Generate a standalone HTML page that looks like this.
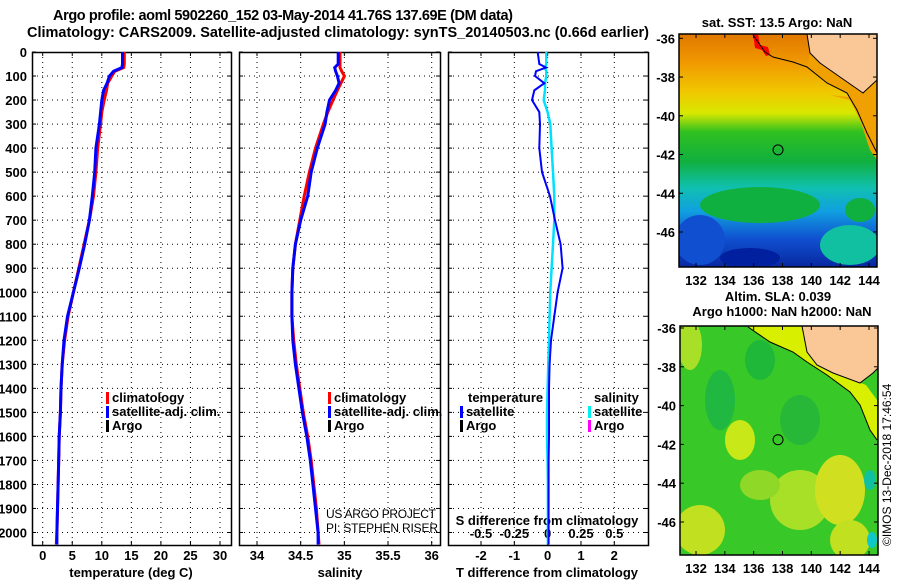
<!DOCTYPE html>
<html><head><meta charset="utf-8"><style>
html,body{margin:0;padding:0;background:#fff;}
svg{display:block;font-family:"Liberation Sans",sans-serif;}
</style></head><body>
<svg id="fig" width="900" height="580" viewBox="0 0 900 580" xmlns="http://www.w3.org/2000/svg">
<defs>
<linearGradient id="sstg" x1="0" y1="0" x2="0" y2="1">
<stop offset="0" stop-color="#e07800"/><stop offset="0.12" stop-color="#f09800"/>
<stop offset="0.25" stop-color="#f0c800"/><stop offset="0.34" stop-color="#d8e800"/>
<stop offset="0.42" stop-color="#30c020"/><stop offset="0.55" stop-color="#10b040"/>
<stop offset="0.66" stop-color="#10c0b0"/><stop offset="0.76" stop-color="#10a0e0"/>
<stop offset="0.88" stop-color="#1050d0"/><stop offset="1" stop-color="#0828a0"/>
</linearGradient>
<clipPath id="c1"><rect x="679" y="34" width="198" height="233"/></clipPath>
<clipPath id="c2"><rect x="680" y="326" width="198" height="229"/></clipPath>
</defs>
<text x="283" y="20" font-size="14.5" font-weight="bold" text-anchor="middle" textLength="460">Argo profile: aoml 5902260_152 03-May-2014 41.76S 137.69E (DM data)</text>
<text x="338" y="37" font-size="14.5" font-weight="bold" text-anchor="middle" textLength="622">Climatology: CARS2009. Satellite-adjusted climatology: synTS_20140503.nc (0.66d earlier)</text>
<g id="panels"></g>
<g id="maps"></g>
<text x="0" y="0" font-size="12" transform="translate(891,546) rotate(-90)">©IMOS 13-Dec-2018 17:46:54</text>
</svg>
<script>
const depths=[0,50,65,80,100,130,160,200,250,300,400,500,600,700,800,900,1000,1100,1200,1300,1400,1500,1600,1700,1800,1900,2000,2050];
const tempClim=[13.8,13.8,13.7,12.2,11.7,11.0,10.8,10.4,10.0,9.8,9.3,9.0,8.6,7.9,7.0,6.1,5.2,4.3,3.7,3.3,3.1,3.0,2.8,2.7,2.6,2.5,2.4,2.3];
const tempSat=[13.5,13.5,13.4,12.0,11.3,10.9,10.3,10.0,9.8,9.6,9.0,8.8,8.4,7.9,7.1,6.2,5.2,4.2,3.6,3.3,3.1,3.0,2.8,2.7,2.6,2.5,2.4,2.4];
const salClim=[34.95,34.95,34.95,34.97,35.0,34.96,34.92,34.87,34.81,34.76,34.67,34.6,34.54,34.49,34.44,34.41,34.4,34.4,34.42,34.45,34.49,34.53,34.58,34.62,34.65,34.68,34.7,34.71];
const salSat=[34.93,34.93,34.89,34.9,34.92,34.94,34.9,34.83,34.8,34.78,34.69,34.62,34.58,34.5,34.44,34.41,34.4,34.4,34.41,34.44,34.48,34.52,34.57,34.61,34.64,34.67,34.7,34.7];
const dTsat=[-0.3,-0.25,-0.05,-0.35,-0.38,-0.1,-0.4,-0.47,-0.25,-0.23,-0.25,-0.17,0.07,0.22,0.39,0.45,0.3,0.2,0.1,0.06,0.04,0.04,0.04,0.03,0.03,0.03,0.03,0.03];
const dSsat=[-0.01,-0.01,-0.02,-0.01,-0.01,-0.02,-0.02,-0.03,0.0,0.02,0.03,0.04,0.05,0.05,0.04,0.03,0.02,0.015,0.01,0.005,0,-0.005,-0.005,0,0.002,0.002,0.002,0.002];
const depthTicks=[0,100,200,300,400,500,600,700,800,900,1000,1100,1200,1300,1400,1500,1600,1700,1800,1900,2000];
const tTicks=[0,5,10,15,20,25,30];
const sTicks=[34,34.5,35,35.5,36];
const dTTicks=[-2,-1,0,1,2];
const dSTicks=[-0.5,-0.25,0,0.25,0.5];
const lonTicks=[132,134,136,138,140,142,144];
const latTicks=[-36,-38,-40,-42,-44,-46];

const NS='http://www.w3.org/2000/svg';
const P=document.getElementById('panels'), M=document.getElementById('maps');
function mk(tag,attrs,parent,txt){const e=document.createElementNS(NS,tag);for(const k in attrs)e.setAttribute(k,attrs[k]);if(txt!==undefined)e.textContent=txt;(parent||P).appendChild(e);return e;}
const Y0=52,Y1=545;
const yD=d=>Y0+(d/2052)*(Y1-Y0);
function lin(d0,d1,r0,r1){return v=>r0+(v-d0)/(d1-d0)*(r1-r0);}
const xT=lin(0,30,42.7,220);
const xS=lin(34,36,257,431.7);
const xDT=lin(-2,2,481,614.3);
const xDS=lin(-0.5,0.5,481,614.3);
const frames=[[32,231,'temperature-panel'],[239,440,'salinity-panel'],[448,648,'difference-panel']];

frames.forEach((f,i)=>{
  const g=mk('g',{});
  
  
  depthTicks.forEach(d=>{if(d===0)return;const l=mk('line',{x1:f[0],x2:f[1],y1:yD(d),y2:yD(d),stroke:'#000','stroke-width':1,'stroke-dasharray':'1,4'},g);
    });
  const xs=i===0?tTicks.map(xT):i===1?sTicks.map(xS):dTTicks.map(xDT);
  xs.forEach(x=>{const l=mk('line',{x1:x,x2:x,y1:Y0,y2:Y1,stroke:'#000','stroke-width':1,'stroke-dasharray':'1,4'},g);
    
    mk('line',{x1:x,x2:x,y1:Y1,y2:Y1-4,stroke:'#000'},g);mk('line',{x1:x,x2:x,y1:Y0,y2:Y0+4,stroke:'#000'},g);});
  depthTicks.forEach(d=>{mk('line',{x1:f[0],x2:f[0]+4,y1:yD(d),y2:yD(d),stroke:'#000'},g);mk('line',{x1:f[1],x2:f[1]-4,y1:yD(d),y2:yD(d),stroke:'#000'},g);});
  const r=mk('rect',{x:f[0]+0.5,y:Y0+0.5,width:f[1]-f[0],height:Y1-Y0,fill:'none',stroke:'#000','stroke-width':1.5},g);
  
});
depthTicks.forEach(d=>{const t=mk('text',{x:27,y:yD(d)+5,'font-size':13,'font-weight':'bold','text-anchor':'end'},P,String(d));
  });
function ticklabels(arr,fx,y,name){arr.forEach(v=>{const t=mk('text',{x:fx(v),y:y,'font-size':13,'font-weight':'bold','text-anchor':'middle'},P,String(v));
  });}
ticklabels(tTicks,xT,560,'temperature-tick-label');
ticklabels(sTicks,xS,560,'salinity-tick-label');
ticklabels(dTTicks,xDT,560,'t-diff-tick-label');
ticklabels(dSTicks,xDS,538,'s-diff-tick-label');
function label(x,y,s,name,size,anchor,weight){const t=mk('text',{x:x,y:y,'font-size':size||13,'font-weight':weight||'bold','text-anchor':anchor||'middle'},P,s);
  return t;}
label(131,577,'temperature (deg C)','temperature-axis-title');
label(340,577,'salinity','salinity-axis-title');
label(547,577,'T difference from climatology','t-diff-axis-title');
label(547,525,'S difference from climatology','s-diff-axis-title');
label(326,518,'US ARGO PROJECT','credit-project',12,'start','normal').setAttribute('textLength','110');
label(326,532,'PI: STEPHEN RISER','credit-pi',12,'start','normal').setAttribute('textLength','112');

function series(xs,fx,col,name,w){const pts=xs.map((v,i)=>fx(v).toFixed(1)+','+yD(depths[i]).toFixed(1)).join(' ');
  const l=mk('polyline',{points:pts,fill:'none',stroke:col,'stroke-width':w||3,'stroke-linejoin':'miter'});
  }
series(tempClim,xT,'#ff0000','temperature-climatology-line');
series(tempSat,xT,'#0000ff','temperature-satellite-line');
series(salClim,xS,'#ff0000','salinity-climatology-line');
series(salSat,xS,'#0000ff','salinity-satellite-line');
series(dSsat,xDS,'#00e0ff','salinity-diff-satellite-line',2.5);
series(dTsat,xDT,'#0000ff','temperature-diff-satellite-line',2);

function legend(x,y,col,txt,name){const g=mk('g',{});
  mk('rect',{x:x,y:y-10,width:3,height:12,fill:col},g);
  mk('text',{x:x+6,y:y,'font-size':13,'font-weight':'bold'},g,txt);}
legend(106,402,'#ff0000','climatology','legend-climatology');
legend(106,416,'#0000ff','satellite-adj. clim.','legend-satellite-adj');
legend(106,430,'#000','Argo','legend-argo');
legend(328,402,'#ff0000','climatology','legend-climatology');
legend(328,416,'#0000ff','satellite-adj. clim.','legend-satellite-adj');
legend(328,430,'#000','Argo','legend-argo');
label(468,402,'temperature','legend-temperature-heading',13,'start');
legend(460,416,'#0000ff','satellite','legend-t-satellite');
legend(460,430,'#000','Argo','legend-t-argo');
label(594,402,'salinity','legend-salinity-heading',13,'start');
legend(588,416,'#00f0f0','satellite','legend-s-satellite');
legend(588,430,'#ff00ff','Argo','legend-s-argo');

function mapAxes(x0,x1,y0,y1,lat36,pxLat,name){
  const lonX=lin(132,144,696,869);
  lonTicks.forEach(l=>{const t=mk('text',{x:lonX(l),y:y1+18,'font-size':13,'font-weight':'bold','text-anchor':'middle'},M,String(l));
    
    mk('line',{x1:lonX(l),x2:lonX(l),y1:y1,y2:y1-4,stroke:'#000'},M);mk('line',{x1:lonX(l),x2:lonX(l),y1:y0,y2:y0+4,stroke:'#000'},M);});
  latTicks.forEach(l=>{const y=lat36+(-36-l)*pxLat;const t=mk('text',{x:x0-4,y:y+5,'font-size':13,'font-weight':'bold','text-anchor':'end'},M,String(l));
    
    mk('line',{x1:x0,x2:x0+4,y1:y,y2:y,stroke:'#000'},M);mk('line',{x1:x1,x2:x1-4,y1:y,y2:y,stroke:'#000'},M);});
  const r=mk('rect',{x:x0,y:y0,width:x1-x0,height:y1-y0,fill:'none',stroke:'#000','stroke-width':1.5},M);
  
  const c=mk('circle',{cx:lonX(137.69),cy:lat36+5.76*pxLat,r:5,fill:'none',stroke:'#000','stroke-width':1},M);
  
}
let g1=mk('g',{'clip-path':'url(#c1)'},M);

mk('rect',{x:679,y:34,width:198,height:233,fill:'url(#sstg)'},g1);
mk('polygon',{points:'810,53 820,63 840,77 863,93 877,80 877,160 867,133 857,110 847,93 827,83 807,67',fill:'#f0a000'},g1);
mk('polygon',{points:'830,95 850,100 860,120 870,150 877,160 877,100',fill:'#f0a000'},g1);
mk('ellipse',{cx:760,cy:205,rx:60,ry:18,fill:'#10b040'},g1);
mk('ellipse',{cx:860,cy:210,rx:15,ry:12,fill:'#10b040'},g1);
mk('ellipse',{cx:700,cy:240,rx:25,ry:25,fill:'#1050d0'},g1);
mk('ellipse',{cx:750,cy:258,rx:30,ry:10,fill:'#0020a0'},g1);
mk('ellipse',{cx:850,cy:245,rx:30,ry:20,fill:'#10c0a0'},g1);
mk('polygon',{points:'753,34 758,34 760,45 768,47 770,55 766,56 762,50 755,48',fill:'#ff0000'},g1);
mk('polygon',{points:'807,34 810,53 820,63 840,77 863,93 877,80 877,34',fill:'#fac896'},g1);
mk('polyline',{points:'753,35 765,52 773,57 793,62 807,67 827,83 847,93 857,110 867,133 877,153',fill:'none',stroke:'#000','stroke-width':1},g1);
mk('polyline',{points:'807,34 810,53 820,63 840,77 863,93 877,80',fill:'none',stroke:'#000','stroke-width':1},g1);
const t1=mk('text',{x:777,y:27,'font-size':13,'font-weight':'bold','text-anchor':'middle'},M,'sat. SST: 13.5 Argo: NaN');

mapAxes(679,877,34,267,38.3,19.37,'sst-map');
let g2=mk('g',{'clip-path':'url(#c2)'},M);

mk('rect',{x:680,y:326,width:198,height:229,fill:'#38c828'},g2);
[[690,345,12,25,'#a8e028'],[740,440,15,20,'#c8e818'],[800,500,30,30,'#a8e028'],[840,490,25,35,'#d0e020'],[700,530,25,25,'#c0e020'],[760,485,20,15,'#90d828'],[850,540,20,20,'#c0e020'],[760,360,15,20,'#20b838'],[720,400,15,30,'#20b840'],[870,480,6,10,'#10c0a0'],[872,540,5,8,'#10c8c8'],[800,420,20,25,'#28b838']].forEach(b=>mk('ellipse',{cx:b[0],cy:b[1],rx:b[2],ry:b[3],fill:b[4]},g2));
mk('polygon',{points:'748,326 770,342 793,352 807,362 827,375 850,392 860,405 870,430 877,440 877,400 866,385 840,375 820,366 808,354 803,326',fill:'#d8f000'},g2);
mk('polygon',{points:'802,326 807,352 817,365 833,373 860,383 873,373 878,368 878,326',fill:'#fac896'},g2);
mk('polyline',{points:'748,327 770,342 793,352 807,362 827,375 850,392 860,405 870,430 877,440',fill:'none',stroke:'#000','stroke-width':1},g2);
mk('polyline',{points:'802,326 807,352 817,365 833,373 860,383 873,373 878,368',fill:'none',stroke:'#000','stroke-width':1},g2);
const t2=mk('text',{x:778,y:301,'font-size':13,'font-weight':'bold','text-anchor':'middle'},M,'Altim. SLA: 0.039');

const t3=mk('text',{x:782,y:316,'font-size':13,'font-weight':'bold','text-anchor':'middle'},M,'Argo h1000: NaN h2000: NaN');

mapAxes(680,878,326,555,328,19.4,'sla-map');
</script>
</body></html>
